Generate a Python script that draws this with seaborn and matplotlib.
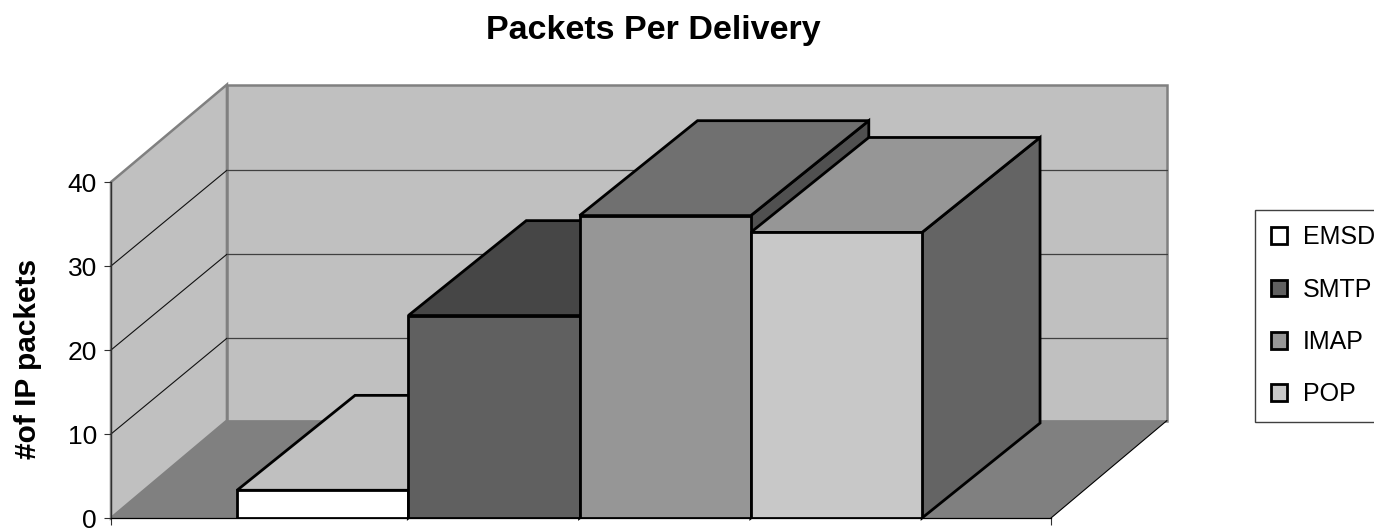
#!/usr/bin/env python3
"""Excel style 3D column chart: packets per delivery."""

import matplotlib
matplotlib.use("Agg")
import matplotlib.pyplot as plt
import pandas as pd
import seaborn as sns
from matplotlib.patches import Patch, Polygon

protocols = ["EMSD", "SMTP", "IMAP", "POP"]
packets = [3.3, 24.1, 36.0, 34.0]
y_ticks = [0, 10, 20, 30, 40]

front_colors = ["#FFFFFF", "#606060", "#969696", "#C8C8C8"]
top_colors = ["#C0C0C0", "#464646", "#707070", "#969696"]
side_colors = ["#A0A0A0", "#383838", "#505050", "#646464"]

# depth of the fake 3D box, in axis units (categories, packets)
WALL_DX, WALL_DY = 0.677, 11.6
GRID_DY = 11.4
BAR_DX, BAR_DY = 0.689, 11.3
X_LEFT, X_RIGHT = -1.236, 4.253
EDGE = 2.0

sns.set_style("white")
plt.rcParams["font.family"] = ["Liberation Sans", "DejaVu Sans"]
plt.rcParams["text.color"] = "black"
plt.rcParams["ytick.labelcolor"] = "black"

fig = plt.figure(figsize=(13.74, 5.29), dpi=100)
ax = fig.add_axes([111 / 1374, 11 / 529, 940 / 1374, 336 / 529])


def face(points, color, z, edge="none", lw=0.0):
    ax.add_patch(Polygon(points, closed=True, facecolor=color, edgecolor=edge,
                         linewidth=lw, zorder=z, clip_on=False))


df = pd.DataFrame({"protocol": protocols, "packets": packets})
sns.barplot(data=df, x="protocol", y="packets", hue="protocol", order=protocols,
            hue_order=protocols, palette=front_colors, saturation=1, width=1,
            dodge=False, legend=False, edgecolor="black", linewidth=EDGE,
            zorder=5, ax=ax)

ax.set_xlim(X_LEFT, X_RIGHT)
ax.set_ylim(0, y_ticks[-1])

# walls and floor
top = y_ticks[-1]
face([(X_LEFT, 0), (X_LEFT, top), (X_LEFT + WALL_DX, top + WALL_DY), (X_LEFT + WALL_DX, WALL_DY)],
     "#C0C0C0", 0.5, "#808080", 1.8)
face([(X_LEFT + WALL_DX, WALL_DY), (X_LEFT + WALL_DX, top + WALL_DY),
      (X_RIGHT + WALL_DX, top + WALL_DY), (X_RIGHT + WALL_DX, WALL_DY)],
     "#C0C0C0", 0.5, "#808080", 1.8)
face([(X_LEFT, 0), (X_RIGHT, 0), (X_RIGHT + WALL_DX, WALL_DY), (X_LEFT + WALL_DX, WALL_DY)],
     "#808080", 0.6)
ax.plot([X_RIGHT, X_RIGHT + WALL_DX], [0, WALL_DY], color="black", lw=0.8,
        zorder=0.7, clip_on=False)

# gridlines on the side wall and the back wall
for t in y_ticks[1:-1]:
    ax.plot([X_LEFT, X_LEFT + WALL_DX], [t, t + GRID_DY], color="#111111", lw=0.8,
            zorder=0.8, clip_on=False)
    ax.plot([X_LEFT + WALL_DX, X_RIGHT + WALL_DX], [t + GRID_DY, t + GRID_DY],
            color="#404040", lw=0.9, zorder=0.8, clip_on=False)

# tops and right sides of the columns, left to right so that later ones cover earlier ones
for i, v in enumerate(packets):
    x0, x1 = i - 0.5, i + 0.5
    face([(x1, 0), (x1, v), (x1 + BAR_DX, v + BAR_DY), (x1 + BAR_DX, BAR_DY)],
         side_colors[i], 3 + i * 0.1, "black", EDGE)
    face([(x0, v), (x1, v), (x1 + BAR_DX, v + BAR_DY), (x0 + BAR_DX, v + BAR_DY)],
         top_colors[i], 3 + i * 0.1 + 0.05, "black", EDGE)

# axes
sns.despine(ax=ax, top=True, right=True)
ax.spines["left"].set(color="#303030", linewidth=0.9, zorder=1)
ax.spines["bottom"].set(color="black", linewidth=0.9, zorder=1)
ax.set_yticks(y_ticks)
ax.set_xticks([X_LEFT, X_RIGHT])
ax.set_xticklabels([])
ax.tick_params(axis="both", which="major", bottom=True, left=True, length=5,
               width=0.8, color="#303030")
ax.tick_params(axis="y", labelsize=19, pad=5)
ax.set_xlabel("")
ax.set_ylabel("")

fig.text(28 / 1374, 1 - 359 / 529, "#of IP packets", rotation=90, fontsize=21.5,
         fontweight="bold", ha="center", va="center")
fig.text(653.5 / 1374, 1 - 31 / 529, "Packets Per Delivery", fontsize=24.5,
         fontweight="bold", ha="center", va="center")

handles = [Patch(facecolor=c, edgecolor="black", linewidth=EDGE) for c in front_colors]
fig.legend(handles, protocols, loc="upper left",
           bbox_to_anchor=(1255 / 1374, 1 - 210 / 529), fontsize=18,
           frameon=True, fancybox=False, framealpha=1, edgecolor="#404040",
           borderaxespad=0, borderpad=0.62, handlelength=0.66, handleheight=0.66,
           handletextpad=0.64, labelspacing=1.13)

fig.savefig("out.png", dpi=100)
